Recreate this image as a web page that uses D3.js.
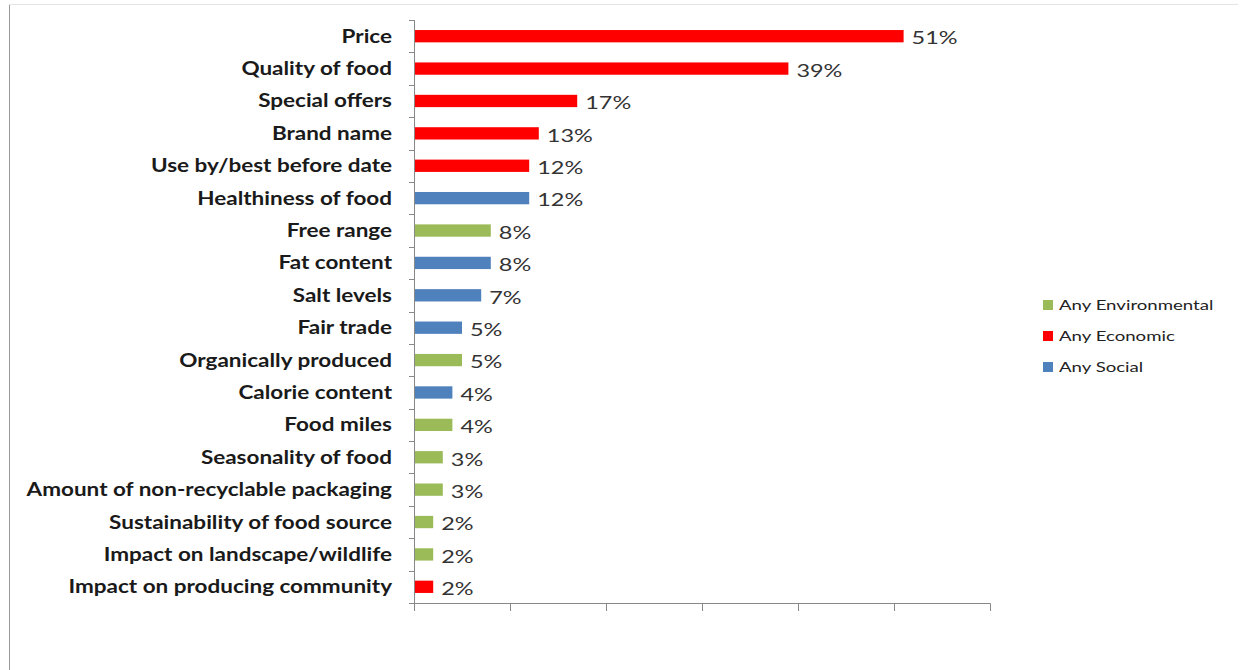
<!DOCTYPE html>
<html><head><meta charset="utf-8">
<script src="https://cdn.jsdelivr.net/npm/d3@7"></script>
<style>body{margin:0;background:#fff}svg{display:block}</style>
</head><body>
<svg id="c" width="1240" height="670"></svg>
<script>
const categories = ["Price","Quality of food","Special offers","Brand name","Use by/best before date","Healthiness of food","Free range","Fat content","Salt levels","Fair trade","Organically produced","Calorie content","Food miles","Seasonality of food","Amount of non-recyclable packaging","Sustainability of food source","Impact on landscape/wildlife","Impact on producing community"];
const values = [51,39,17,13,12,12,8,8,7,5,5,4,4,3,3,2,2,2];
const groups = ["Economic","Economic","Economic","Economic","Economic","Social","Environmental","Social","Social","Social","Environmental","Social","Environmental","Environmental","Environmental","Environmental","Environmental","Economic"];
const legendKeys = ["Environmental","Economic","Social"];
const legendLabels = ["Any Environmental","Any Economic","Any Social"];
const xTicks = [0,10,20,30,40,50,60];

const colors = {Environmental:"#9BBB59", Economic:"#FF0000", Social:"#4F81BD"};
const svg = d3.select("#c");
const fontFam = "Lato, 'Open Sans', sans-serif";

// frame
svg.append("line").attr("x1",9.5).attr("x2",9.5).attr("y1",5).attr("y2",670).attr("stroke","#999");
svg.append("line").attr("x1",9).attr("x2",1238).attr("y1",4.5).attr("y2",4.5).attr("stroke","#e4e4e4");

const x = d3.scaleLinear().domain([0,60]).range([414,990]);
const y = d3.scaleBand().domain(categories).range([20,603]).paddingInner(0.62).paddingOuter(0.31);

const g = svg.append("g");
// bars
g.selectAll("rect.bar").data(categories).join("rect")
  .attr("x", x(0)+1)
  .attr("y", d=>y(d))
  .attr("width", (d,i)=>x(values[i])-x(0)-1)
  .attr("height", y.bandwidth())
  .attr("fill", (d,i)=>colors[groups[i]]);

// value labels (the source text is horizontally stretched)
g.selectAll("text.val").data(categories).join("text")
  .attr("transform", (d,i)=>`translate(${x(values[i])+8},${y(d)+y.bandwidth()/2+2}) scale(1.34,1)`)
  .attr("dy","0.36em")
  .attr("font-family",fontFam).attr("font-size",17.5).attr("fill","#333")
  .text((d,i)=>values[i]+"%");

// y axis
g.append("line").attr("x1",414.5).attr("x2",414.5).attr("y1",20).attr("y2",603).attr("stroke","#888");
const bounds = d3.range(categories.length+1).map(i=>20 + i*(583/categories.length));
g.selectAll("line.yt").data(bounds).join("line")
  .attr("x1",409).attr("x2",414.5).attr("y1",d=>Math.round(d)+0.5).attr("y2",d=>Math.round(d)+0.5).attr("stroke","#888");
g.selectAll("text.cat").data(categories).join("text")
  .attr("transform", d=>`translate(392,${y(d)+y.bandwidth()/2}) scale(1.25,1)`)
  .attr("dy","0.36em")
  .attr("text-anchor","end")
  .attr("font-family",fontFam).attr("font-weight","bold").attr("font-size",18).attr("fill","#1a1a1a")
  .text(d=>d);

// x axis
g.append("line").attr("x1",409).attr("x2",990.5).attr("y1",603.5).attr("y2",603.5).attr("stroke","#888");
g.selectAll("line.xt").data(xTicks).join("line")
  .attr("x1",d=>Math.round(x(d))+0.5).attr("x2",d=>Math.round(x(d))+0.5)
  .attr("y1",603.5).attr("y2",611).attr("stroke","#888");

// legend
const leg = svg.append("g");
legendKeys.forEach((k,i)=>{
  const ly = 305 + i*31;
  leg.append("rect").attr("x",1043).attr("y",ly-5).attr("width",10).attr("height",10).attr("fill",colors[k]);
  leg.append("text").attr("transform",`translate(1059,${ly}) scale(1.33,1)`).attr("dy","0.36em")
    .attr("font-family",fontFam).attr("font-size",14).attr("fill","#222")
    .text(legendLabels[i]);
});
</script>
</body></html>
